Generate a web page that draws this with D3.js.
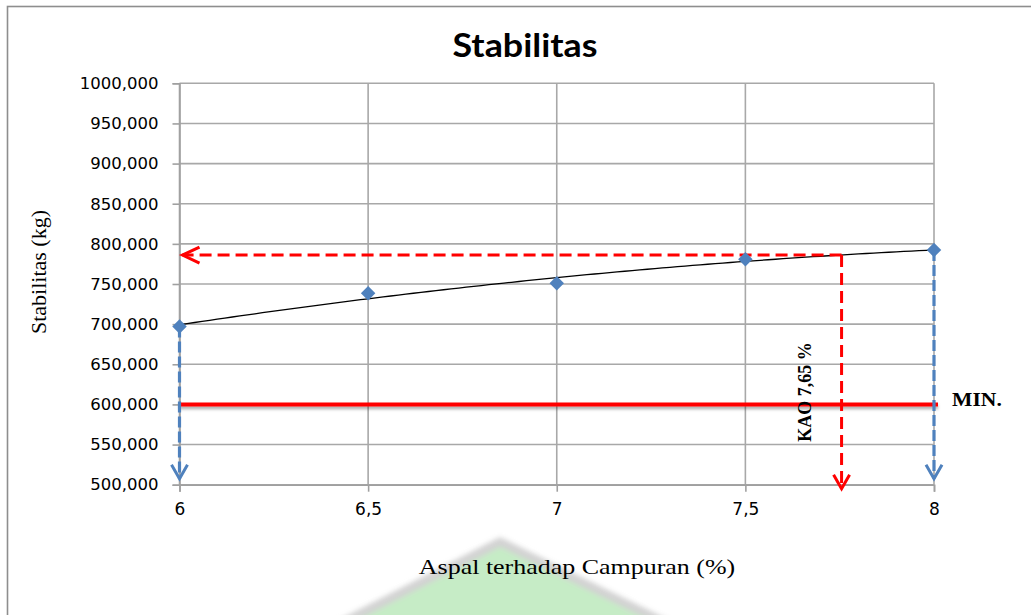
<!DOCTYPE html>
<html>
<head>
<meta charset="utf-8">
<script src="https://cdn.jsdelivr.net/npm/d3@7/dist/d3.min.js"></script>
<style>
  html, body { margin: 0; padding: 0; background: #ffffff; }
  svg { display: block; }
</style>
</head>
<body>
<svg id="chart" width="1031" height="615"></svg>
<script>
// ---- data ----
const chartTitle = "Stabilitas";
const xTitle = "Aspal terhadap Campuran (%)";
const yTitle = "Stabilitas (kg)";
const asphalt = [6, 6.5, 7, 7.5, 8];                 // % asphalt
const stability = [697, 738.4, 750.9, 780.7, 792.3]; // kg (thousands in chart units)
const xTicks = [6, 6.5, 7, 7.5, 8];
const xTickLabels = ["6", "6,5", "7", "7,5", "8"];
const yTicks = [500, 550, 600, 650, 700, 750, 800, 850, 900, 950, 1000];
const yTickLabels = ["500,000", "550,000", "600,000", "650,000", "700,000", "750,000",
                     "800,000", "850,000", "900,000", "950,000", "1000,000"];
const minStability = [600];          // MIN. requirement line
const kaoPoint = [7.755, 786];       // where the red guide arrows meet
const kaoLabel = "KAO 7,65 %";
const minLabel = "MIN.";

// ---- layout ----
const svg = d3.select("#chart");
const x = d3.scaleLinear().domain([6, 8]).range([179.5, 934]);
const y = d3.scaleLinear().domain([500, 1000]).range([484.7, 83.3]);

const defs = svg.append("defs");
const blur = defs.append("filter").attr("id", "wmblur")
  .attr("filterUnits", "userSpaceOnUse")
  .attr("x", 200).attr("y", 500).attr("width", 600).attr("height", 200);
blur.append("feGaussianBlur").attr("stdDeviation", 2.5);
const shadow = defs.append("filter").attr("id", "shadow")
  .attr("filterUnits", "userSpaceOnUse")
  .attr("x", 150).attr("y", 380).attr("width", 820).attr("height", 50);
shadow.append("feDropShadow").attr("dx", 0).attr("dy", 2.5).attr("stdDeviation", 1.6)
  .attr("flood-color", "#000").attr("flood-opacity", 0.35);

// outer chart border
svg.append("rect").attr("x", 7.5).attr("y", 6.5).attr("width", 1100).attr("height", 700)
  .attr("fill", "none").attr("stroke", "#8e8e8e").attr("stroke-width", 1.6);

// faint watermark (logo) at the bottom
const wm = svg.append("g").attr("filter", "url(#wmblur)").attr("opacity", 0.75);
wm.append("path")
  .attr("d", "M500,542 L290,650 L720,650 Z")
  .attr("fill", "#b4e6b4").attr("stroke", "#c4c4c4").attr("stroke-width", 9)
  .attr("stroke-linejoin", "round");

// gridlines
const grid = svg.append("g").attr("stroke", "#a8a8a8").attr("stroke-width", 1.6);
grid.selectAll("line.h").data(yTicks).join("line").attr("class", "h")
  .attr("x1", x(6)).attr("x2", x(8)).attr("y1", d => y(d)).attr("y2", d => y(d));
grid.selectAll("line.v").data(xTicks).join("line").attr("class", "v")
  .attr("x1", d => x(d)).attr("x2", d => x(d)).attr("y1", y(1000)).attr("y2", y(500));

// axes
const yAxis = d3.axisLeft(y).tickValues(yTicks)
  .tickFormat((d, i) => yTickLabels[i]).tickSize(7).tickPadding(14);
const gy = svg.append("g").attr("transform", `translate(${x(6)},0)`).call(yAxis);
const xAxis = d3.axisBottom(x).tickValues(xTicks)
  .tickFormat((d, i) => xTickLabels[i]).tickSize(7).tickPadding(11);
const gx = svg.append("g").attr("transform", `translate(0,${y(500)})`).call(xAxis);
[gy, gx].forEach(g => {
  g.select(".domain").attr("stroke", "#a0a0a0").attr("stroke-width", 1.6);
  g.selectAll(".tick line").attr("stroke", "#a0a0a0").attr("stroke-width", 1.6);
  g.selectAll("text").attr("fill", "#000").attr("font-family", "DejaVu Sans, Verdana, sans-serif");
});
gy.selectAll("text").attr("font-size", 16.5);
gx.selectAll("text").attr("font-size", 17);

// MIN line
svg.append("line")
  .attr("x1", x(6)).attr("x2", x(8) + 4)
  .attr("y1", y(minStability[0])).attr("y2", y(minStability[0]))
  .attr("stroke", "#ff0000").attr("stroke-width", 4)
  .attr("filter", "url(#shadow)");

// quadratic least-squares trendline from the data
function polyFit2(xs, ys) {
  const n = xs.length;
  let S = [0,0,0,0,0], T = [0,0,0];
  for (let i = 0; i < n; i++) {
    for (let k = 0; k < 5; k++) S[k] += Math.pow(xs[i], k);
    for (let k = 0; k < 3; k++) T[k] += ys[i] * Math.pow(xs[i], k);
  }
  const A = [[S[0],S[1],S[2],T[0]],[S[1],S[2],S[3],T[1]],[S[2],S[3],S[4],T[2]]];
  for (let c = 0; c < 3; c++) {
    for (let r = c + 1; r < 3; r++) {
      const f = A[r][c] / A[c][c];
      for (let k = c; k < 4; k++) A[r][k] -= f * A[c][k];
    }
  }
  const b = [0,0,0];
  for (let r = 2; r >= 0; r--) {
    let s = A[r][3];
    for (let k = r + 1; k < 3; k++) s -= A[r][k] * b[k];
    b[r] = s / A[r][r];
  }
  return t => b[0] + b[1] * t + b[2] * t * t;
}
const fit = polyFit2(asphalt, stability);
const trendX = d3.range(0, 101).map(i => 6 + i * 0.02);
svg.append("path")
  .datum(trendX)
  .attr("d", d3.line().x(d => x(d)).y(d => y(fit(d))))
  .attr("fill", "none").attr("stroke", "#000").attr("stroke-width", 1.3);

// blue dashed guide arrows at first and last points
const blue = "#4f81bd";
const bluePts = [0, asphalt.length - 1];
const gB = svg.append("g");
bluePts.forEach(i => {
  const px = x(asphalt[i]);
  const y0 = y(stability[i]);
  const y1 = y(500) - 6;
  gB.append("line").attr("x1", px).attr("x2", px).attr("y1", y0).attr("y2", y1)
    .attr("stroke", blue).attr("stroke-width", 3.2).attr("stroke-dasharray", "11,4");
  gB.append("path")
    .attr("d", `M${px - 8},${y1 - 14} L${px},${y1} L${px + 8},${y1 - 14}`)
    .attr("fill", "none").attr("stroke", blue).attr("stroke-width", 3)
    .attr("stroke-linejoin", "miter");
});

// red dashed guide arrows from KAO point
const red = "#ff0000";
const kx = x(kaoPoint[0]), ky = y(kaoPoint[1]);
const hx1 = x(6) + 3;
svg.append("line").attr("x1", kx).attr("x2", hx1).attr("y1", ky).attr("y2", ky)
  .attr("stroke", red).attr("stroke-width", 3).attr("stroke-dasharray", "12,6");
svg.append("path")
  .attr("d", `M${hx1 + 17},${ky - 8} L${hx1},${ky} L${hx1 + 17},${ky + 8}`)
  .attr("fill", "none").attr("stroke", red).attr("stroke-width", 3);
const vy1 = y(500) + 4;
svg.append("line").attr("x1", kx).attr("x2", kx).attr("y1", ky).attr("y2", vy1)
  .attr("stroke", red).attr("stroke-width", 3).attr("stroke-dasharray", "12,6");
svg.append("path")
  .attr("d", `M${kx - 8},${vy1 - 14} L${kx},${vy1} L${kx + 8},${vy1 - 14}`)
  .attr("fill", "none").attr("stroke", red).attr("stroke-width", 3);

// data markers (diamonds)
svg.append("g").selectAll("path").data(asphalt).join("path")
  .attr("transform", (d, i) => `translate(${x(d)},${y(stability[i])}) rotate(45)`)
  .attr("d", d3.symbol().type(d3.symbolSquare).size(105))
  .attr("fill", blue);

// texts
svg.append("text").text(chartTitle)
  .attr("transform", "translate(525,57) scale(1.12,1)")
  .attr("text-anchor", "middle")
  .attr("font-family", "Lato, 'Open Sans', sans-serif").attr("font-weight", "bold")
  .attr("font-size", 32).attr("fill", "#000");

svg.append("text").text(yTitle)
  .attr("transform", "translate(46,272) rotate(-90)")
  .attr("text-anchor", "middle")
  .attr("font-family", "'Liberation Serif', 'Times New Roman', serif")
  .attr("font-size", 22).attr("fill", "#000");

svg.append("text").text(xTitle)
  .attr("transform", "translate(577,574) scale(1.18,1)")
  .attr("text-anchor", "middle")
  .attr("font-family", "'Liberation Serif', 'Times New Roman', serif")
  .attr("font-size", 22).attr("fill", "#000");

svg.append("text").text(minLabel)
  .attr("transform", "translate(952,406) scale(1.2,1)")
  .attr("font-family", "'Liberation Serif', 'Times New Roman', serif")
  .attr("font-weight", "bold").attr("font-size", 18).attr("fill", "#000");

svg.append("text").text(kaoLabel)
  .attr("transform", "translate(811,392) rotate(-90)")
  .attr("text-anchor", "middle")
  .attr("font-family", "'Liberation Serif', 'Times New Roman', serif")
  .attr("font-weight", "bold").attr("font-size", 18).attr("fill", "#000");
</script>
</body>
</html>
